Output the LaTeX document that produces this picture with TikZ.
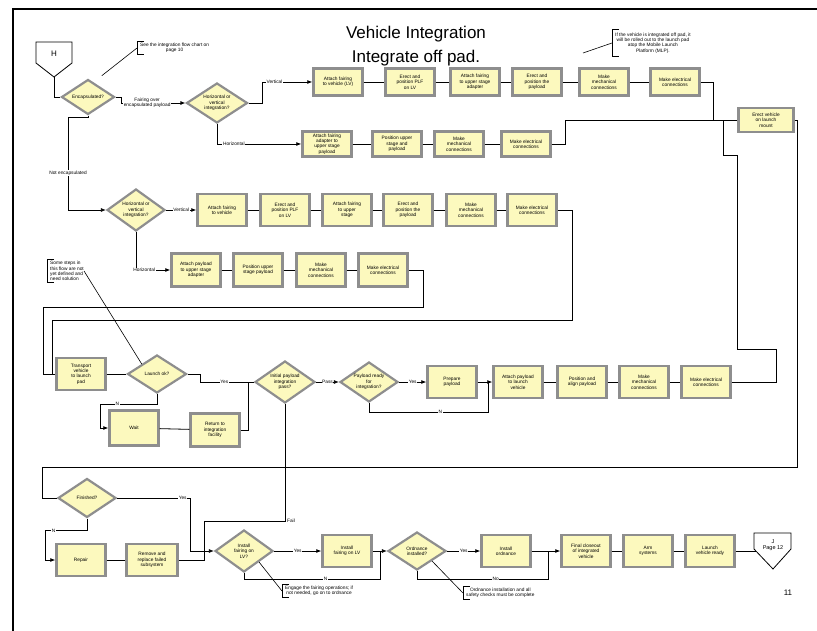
\documentclass[tikz,border=0pt]{standalone}
\usepackage{fontspec}
\setmainfont{Liberation Sans}
\usetikzlibrary{shapes.geometric, arrows.meta, positioning, calc}
\definecolor{modfill}{HTML}{FCF9BE}
\definecolor{modedge}{HTML}{8E8E8E}
\newcommand{\tinytext}{\fontsize{4.8}{5.4}\selectfont}

\begin{document}
\begin{tikzpicture}[x=1pt, y=-1pt,
    modbox/.style={rectangle, draw=modedge, line width=2.4pt, fill=modfill, minimum width=49pt, minimum height=32pt, inner sep=1pt, align=center, font=\tinytext},
    decide/.style={diamond, aspect=1.5, draw=modedge, line width=2.2pt, fill=modfill, minimum width=58pt, minimum height=40pt, inner sep=0pt, align=center, font=\tinytext},
    flow/.style={line width=0.8pt},
    arr/.style={flow, -{Latex[length=5pt,width=4pt]}},
    lbl/.style={fill=white, inner sep=0.6pt, align=center, font=\tinytext},
    notetext/.style={align=center, inner xsep=3pt, inner ysep=1.5pt, font=\tinytext, anchor=west},
    bracket/.style={line width=0.6pt}]
  \useasboundingbox (0,0) rectangle (817,631);
  % page frame
  \draw[line width=2.6pt] (13,660) -- (13,9) -- (840,9);
  \node[font=\fontsize{17}{24}\selectfont, align=center] (title) at (416,46) {Vehicle Integration\\Integrate off pad.};

  % off-page connectors
  \draw[flow] (36,42) -- (72,42) -- (72,63) -- (54,77) -- (36,63) -- cycle;
  \node[font=\fontsize{8}{9}\selectfont] (offH) at (54,54) {H};
  \coordinate (hTip) at (54,77);
  \draw[flow] (754,533) -- (791,533) -- (791,549) -- (773,569) -- (754,549) -- cycle;
  \node[font=\fontsize{5.5}{6.5}\selectfont, align=center] (offJ) at (773,545) {J\\Page 12};
  \coordinate (jIn) at (756,551);
  \node[font=\fontsize{8}{9}\selectfont] (pageNo) at (788,593) {11};

  % notes
  \node[notetext] (nSee) at (137,48) {See the integration flow chart on\\page 10};
  \node[notetext, inner ysep=3pt] (nMLP) at (612,43) {If the vehicle is integrated off pad, it\\will be rolled out to the launch pad\\atop the Mobile Launch\\Platform (MLP).};
  \node[notetext, align=left] (nOpen) at (47,271) {Some steps in\\this flow are not\\yet defined and\\need solution};
  \node[notetext] (nFair) at (282,591) {Engage the fairing operations; if\\not needed, go on to ordnance};
  \node[notetext] (nOrd) at (463,593) {Ordnance installation and all\\safety checks must be complete};
  \foreach \n in {nSee,nMLP,nOpen,nFair,nOrd}
    \draw[bracket] ([xshift=7pt]\n.north west) -- (\n.north west) -- (\n.south west) -- ([xshift=7pt]\n.south west);

  % encapsulated payload
  \node[decide, minimum width=53pt, minimum height=35pt] (dEnc) at (88,97) {Encapsulated?};
  \node[decide, minimum width=61pt] (dOri) at (217,103) {Horizontal or\\vertical\\integration?};
  \node[modbox, minimum height=27pt] (bAtt) at (338,82) {Attach fairing\\to vehicle (LV)};
  \node[modbox, minimum height=27pt] (bErect) at (410,82) {Erect and\\position PLF\\on LV};
  \node[modbox, minimum height=27pt] (bAdapt) at (475,82) {Attach fairing\\to upper stage\\adapter};
  \node[modbox, minimum height=27pt] (bPos) at (537,82) {Erect and\\position the\\payload};
  \node[modbox, minimum height=27pt] (bMech) at (604,82) {Make\\mechanical\\connections};
  \node[modbox, minimum height=27pt] (bElec) at (675,82) {Make electrical\\connections};
  \node[modbox, minimum height=25pt] (cAtt) at (327,144) {Attach fairing\\adapter to\\upper stage\\payload};
  \node[modbox, minimum height=25pt] (cPos) at (397,144) {Position upper\\stage and\\payload};
  \node[modbox, minimum height=25pt] (cMech) at (459,144) {Make\\mechanical\\connections};
  \node[modbox, minimum height=25pt] (cElec) at (526,144) {Make electrical\\connections};
  \node[modbox, minimum width=55pt, minimum height=24pt] (tRoll) at (766,120) {Erect vehicle\\on launch\\mount};

  % not encapsulated
  \node[decide, minimum height=42pt] (dOri2) at (136,210) {Horizontal or\\vertical\\integration?};
  \node[modbox] (eAtt) at (222,210) {Attach fairing\\to vehicle};
  \node[modbox] (eErect) at (285,210) {Erect and\\position PLF\\on LV};
  \node[modbox] (eAdapt) at (347,210) {Attach fairing\\to upper\\stage};
  \node[modbox] (ePos) at (408,210) {Erect and\\position the\\payload};
  \node[modbox] (eMech) at (471,210) {Make\\mechanical\\connections};
  \node[modbox] (eElec) at (532,210) {Make electrical\\connections};
  \node[modbox, minimum height=33pt] (fAtt) at (196,270) {Attach payload\\to upper stage\\adapter};
  \node[modbox, minimum height=33pt] (fPos) at (258,270) {Position upper\\stage payload};
  \node[modbox, minimum height=33pt] (fMech) at (321,270) {Make\\mechanical\\connections};
  \node[modbox, minimum height=33pt] (fElec) at (383,270) {Make electrical\\connections};

  % at the pad
  \node[modbox] (rTrans) at (81,374) {Transport\\vehicle\\to launch\\pad};
  \node[decide, minimum width=59pt, minimum height=38pt] (dLaunch) at (157,374) {Launch ok?};
  \node[modbox, minimum height=35pt] (rWait) at (134,428) {Wait};
  \node[modbox, minimum height=33pt] (rRet) at (215,430) {Return to\\integration\\facility};
  \node[decide, minimum width=60pt, minimum height=42pt] (dPass) at (285,382) {Initial payload\\integration\\pass?};
  \node[decide] (dPayl) at (369,382) {Payload ready\\for\\integration?};
  \node[modbox] (pPrep) at (452,382) {Prepare\\payload};
  \node[modbox] (pAtt) at (518,382) {Attach payload\\to launch\\vehicle};
  \node[modbox] (pPos) at (582,382) {Position and\\align payload};
  \node[modbox] (pMech) at (644,382) {Make\\mechanical\\connections};
  \node[modbox] (pElec) at (706,382) {Make electrical\\connections};

  % closeout
  \node[decide, minimum height=39pt] (dFin) at (87,498) {Finished?};
  \node[modbox] (rFix) at (81,560) {Repair};
  \node[modbox, minimum width=51pt] (rRepl) at (152,560) {Remove and\\replace failed\\subsystem};
  \node[decide, minimum height=42pt] (dLand) at (244,551) {Install\\fairing on\\LV?};
  \node[modbox] (lFair) at (347,551) {Install\\fairing on LV};
  \node[decide, minimum height=38pt] (dOrd) at (417,551) {Ordnance\\installed?};
  \node[modbox] (lOrd) at (506,551) {Install\\ordnance};
  \node[modbox] (lClose) at (586,551) {Final closeout\\of integrated\\vehicle};
  \node[modbox] (lArm) at (648,551) {Arm\\systems};
  \node[modbox] (lReady) at (710,551) {Launch\\vehicle ready};

  % note leaders
  \draw[bracket] (nSee.west) -- ([yshift=12pt]dEnc.north east);
  \draw[bracket] (nMLP.west) -- ++(-29,10);
  \draw[bracket] ([xshift=-3pt]nOpen.east) -- (dLaunch.north west);
  \draw[bracket] (nFair.west) -- (dLand.south east);
  \draw[bracket] (nOrd.west) -- (dOrd.south east);

  % straight runs
  \foreach \a/\b in {bAtt/bErect,bErect/bAdapt,bAdapt/bPos,bPos/bMech,bMech/bElec,
                     cAtt/cPos,cPos/cMech,cMech/cElec,
                     eAtt/eErect,eErect/eAdapt,eAdapt/ePos,ePos/eMech,eMech/eElec,
                     fAtt/fPos,fPos/fMech,fMech/fElec,
                     rTrans/dLaunch,rWait/rRet,pAtt/pPos,pPos/pMech,pMech/pElec,
                     rFix/rRepl,lClose/lArm,lArm/lReady}
    \draw[flow] (\a) -- (\b);

  % branches
  \draw[flow] (hTip) |- (dEnc.west);
  \draw[arr] (dEnc.east) -- ++(6,0) |- (dOri.west) node[lbl, pos=0.7] {Fairing over\\encapsulated payload};
  \draw[arr] (dOri.east) -- ++(14,0) |- (bAtt.west) node[lbl, pos=0.62] {Vertical};
  \draw[arr] (dOri.south) |- (cAtt.west) node[lbl, pos=0.6] {Horizontal};
  \draw[flow] (bElec.east) -- ++(13,0) |- (tRoll.west);
  \draw[flow] (cElec.east) -- ++(14,0) |- (tRoll.west);
  \draw[arr] (dEnc.south) -- ++(0,2) -- ++(-20,0) |- (dOri2.west) node[lbl, pos=0.3] {Not encapsulated};
  \draw[arr] (dOri2.east) -- (eAtt.west) node[lbl, midway] {Vertical};
  \draw[arr] (dOri2.south) |- (fAtt.west) node[lbl, pos=0.62] {Horizontal};
  \draw[flow] (eElec.east) -- ++(15,0) -- ++(0,110) -| ([xshift=-3pt]rTrans.west) -- (rTrans.west);
  \draw[flow] (fElec.east) -- ++(15,0) -- ++(0,37) -| ([xshift=-12pt]rTrans.west) -- (rTrans.west);

  \coordinate (jPass) at (248,382);
  \draw[flow] (dLaunch.east) -- ++(13,0) |- (jPass) node[lbl, pos=0.75] {Yes};
  \draw[flow] (jPass) -- (dPass.west);
  \draw[flow] (rRet.east) -| (jPass);
  \draw[arr] (dLaunch.south) -- ++(0,10) -| node[lbl, pos=0.35] {N} ([xshift=-8pt]rWait.west) -- (rWait.west);
  \draw[arr] (dPass.east) -- (dPayl.west) node[lbl, midway] {Pass};
  \draw[arr] (dPayl.east) -- (pPrep.west) node[lbl, midway] {Yes};
  \coordinate (jAtt) at (488,382);
  \draw[arr] (pPrep.east) -- (pAtt.west);
  \draw[flow] (dPayl.south) -- ++(0,9) -| node[lbl, pos=0.3] {N} (jAtt);
  \draw[flow] (pElec.east) -- ++(45,0) -- ++(0,-33) -- (737,349) -- (737,155) -- (723,155) |- (tRoll.west);
  \draw[flow] (tRoll.east) -- ++(3,0) |- (42,467) |- (dFin.west);

  \coordinate (jFail) at (204,521);
  \coordinate (jLand) at (204,551);
  \draw[flow] (dPass.south) |- node[lbl, pos=0.5, xshift=6pt] {Fail} (jFail) -- (jLand);
  \draw[arr] (jLand) -- (dLand.west);
  \draw[flow] (dFin.east) -| node[lbl, pos=0.45] {Yes} (190,551) -- (jLand);
  \draw[flow] (rRepl.east) -| (jLand);
  \draw[arr] (dFin.south) -- ++(0,12) -| node[lbl, pos=0.4] {N} ([xshift=-10pt]rFix.west) -- (rFix.west);

  \draw[arr] (dLand.east) -- (lFair.west) node[lbl, midway] {Yes};
  \coordinate (jOrd) at (380,551);
  \draw[arr] (lFair.east) -- (dOrd.west);
  \draw[flow] (dLand.south) -- ++(0,6) -| node[lbl, pos=0.3] {N} (jOrd);
  \draw[arr] (dOrd.east) -- (lOrd.west) node[lbl, midway] {Yes};
  \coordinate (jClose) at (548,551);
  \draw[arr] (lOrd.east) -- (lClose.west);
  \draw[flow] (dOrd.south) -- ++(0,8) -| node[lbl, pos=0.3] {No} (jClose);
  \draw[flow] (lReady.east) -- (jIn);
\end{tikzpicture}
\end{document}
